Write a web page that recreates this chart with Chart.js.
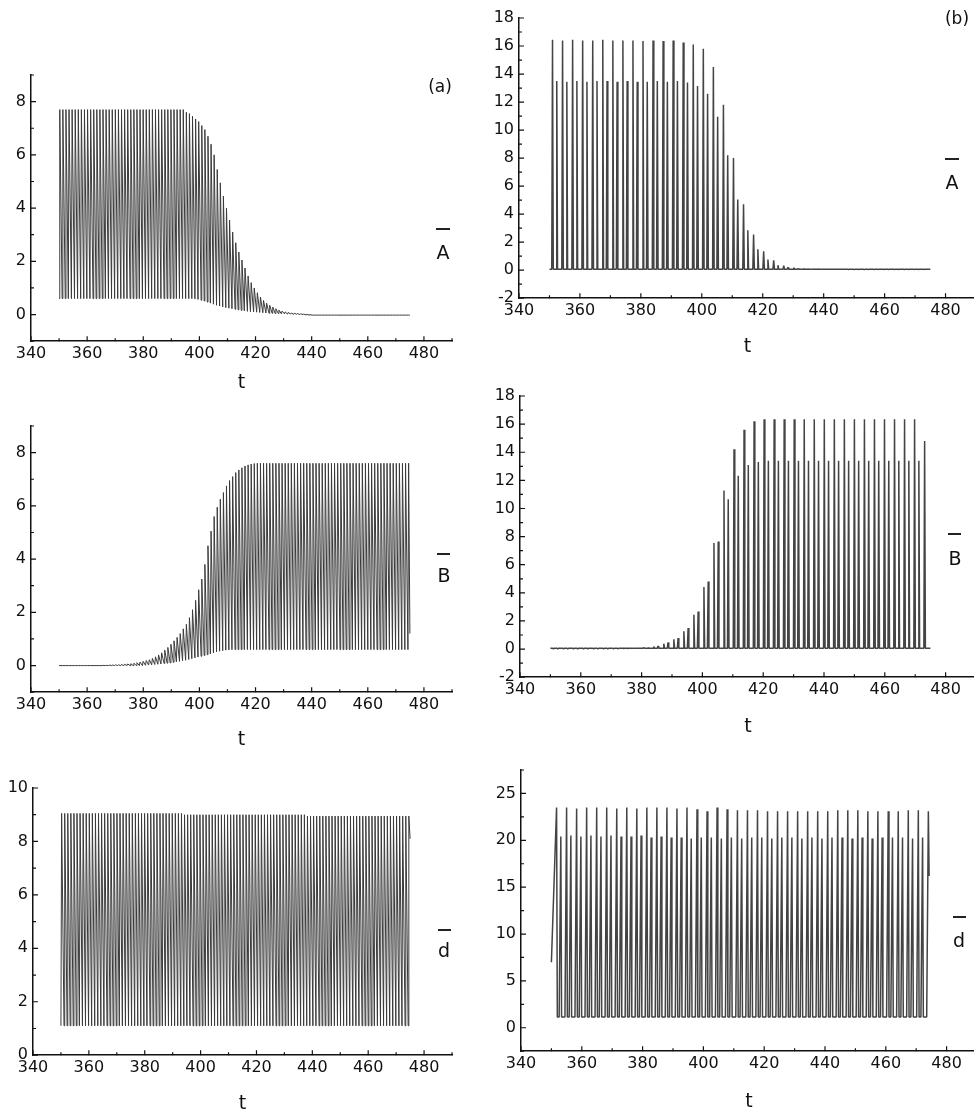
<!DOCTYPE html>
<html>
<head>
<meta charset="utf-8">
<script src="https://cdn.jsdelivr.net/npm/chart.js@4.4.1/dist/chart.umd.min.js"></script>
<style>
    html, body { margin: 0; padding: 0; background: #fff; }
    body { width: 974px; height: 1113px; position: relative; overflow: hidden; font-family: 'DejaVu Sans', sans-serif; }
    canvas { position: absolute; }
    .lbl { position: absolute; transform: translate(-50%, -50%); color: #111; white-space: nowrap; line-height: 1; }
    .bar { position: absolute; height: 0; border-top: 2px solid #222; }
</style>
</head>
<body>
<script>
// axis tick labels
var xTicks = [340, 360, 380, 400, 420, 440, 460, 480];
var yTicksAB = [0, 2, 4, 6, 8];
var yTicksSpike = [-2, 0, 2, 4, 6, 8, 10, 12, 14, 16, 18];
var yTicksDLeft = [0, 2, 4, 6, 8, 10];
var yTicksDRight = [0, 5, 10, 15, 20, 25];

// left column (a): times of each oscillation
var tLeft = [
    350.0, 351.1, 352.2, 353.3, 354.4, 355.5, 356.6, 357.7, 358.8, 359.9,
    361.0, 362.1, 363.2, 364.3, 365.4, 366.5, 367.6, 368.7, 369.8, 370.9,
    372.0, 373.1, 374.2, 375.3, 376.4, 377.5, 378.6, 379.7, 380.8, 381.9,
    383.0, 384.1, 385.2, 386.3, 387.4, 388.5, 389.6, 390.7, 391.8, 392.9,
    394.0, 395.1, 396.2, 397.3, 398.4, 399.5, 400.6, 401.7, 402.8, 403.9,
    405.0, 406.1, 407.2, 408.3, 409.4, 410.5, 411.6, 412.7, 413.8, 414.9,
    416.0, 417.1, 418.2, 419.3, 420.4, 421.5, 422.6, 423.7, 424.8, 425.9,
    427.0, 428.1, 429.2, 430.3, 431.4, 432.5, 433.6, 434.7, 435.8, 436.9,
    438.0, 439.1, 440.2, 441.3, 442.4, 443.5, 444.6, 445.7, 446.8, 447.9,
    449.0, 450.1, 451.2, 452.3, 453.4, 454.5, 455.6, 456.7, 457.8, 458.9,
    460.0, 461.1, 462.2, 463.3, 464.4, 465.5, 466.6, 467.7, 468.8, 469.9,
    471.0, 472.1, 473.2, 474.3
];

// A, left column: max / min of every oscillation
var aLeftHi = [
    7.7, 7.7, 7.7, 7.7, 7.7, 7.7, 7.7, 7.7, 7.7, 7.7,
    7.7, 7.7, 7.7, 7.7, 7.7, 7.7, 7.7, 7.7, 7.7, 7.7,
    7.7, 7.7, 7.7, 7.7, 7.7, 7.7, 7.7, 7.7, 7.7, 7.7,
    7.7, 7.7, 7.7, 7.7, 7.7, 7.7, 7.7, 7.7, 7.7, 7.7,
    7.7, 7.6, 7.55, 7.45, 7.35, 7.25, 7.1, 6.95, 6.7, 6.4,
    6.0, 5.45, 4.95, 4.45, 4.0, 3.55, 3.1, 2.7, 2.35, 2.05,
    1.75, 1.45, 1.2, 1.0, 0.82, 0.66, 0.53, 0.43, 0.35, 0.28,
    0.22, 0.17, 0.13, 0.1, 0.08, 0.06, 0.05, 0.04, 0.03, 0.02,
    0.01, 0, -0.02, -0.02, -0.02, -0.02, -0.02, -0.02, -0.02, -0.02,
    -0.02, -0.02, -0.02, -0.02, -0.02, -0.02, -0.02, -0.02, -0.02, -0.02,
    -0.02, -0.02, -0.02, -0.02, -0.02, -0.02, -0.02, -0.02, -0.02, -0.02,
    -0.02, -0.02, -0.02, -0.02
];
var aLeftLo = [
    0.6, 0.6, 0.6, 0.6, 0.6, 0.6, 0.6, 0.6, 0.6, 0.6,
    0.6, 0.6, 0.6, 0.6, 0.6, 0.6, 0.6, 0.6, 0.6, 0.6,
    0.6, 0.6, 0.6, 0.6, 0.6, 0.6, 0.6, 0.6, 0.6, 0.6,
    0.6, 0.6, 0.6, 0.6, 0.6, 0.6, 0.6, 0.6, 0.6, 0.6,
    0.6, 0.6, 0.6, 0.6, 0.59, 0.57, 0.54, 0.51, 0.47, 0.43,
    0.39, 0.35, 0.32, 0.29, 0.26, 0.24, 0.22, 0.2, 0.18, 0.16,
    0.14, 0.12, 0.11, 0.1, 0.09, 0.08, 0.07, 0.06, 0.05, 0.05,
    0.04, 0.04, 0.03, 0.03, 0.02, 0.02, 0.01, 0.01, 0, 0,
    -0.01, -0.02, -0.02, -0.02, -0.02, -0.02, -0.02, -0.02, -0.02, -0.02,
    -0.02, -0.02, -0.02, -0.02, -0.02, -0.02, -0.02, -0.02, -0.02, -0.02,
    -0.02, -0.02, -0.02, -0.02, -0.02, -0.02, -0.02, -0.02, -0.02, -0.02,
    -0.02, -0.02, -0.02, -0.02
];
var aLeftEnd = -0.02;

// B, left column
var bLeftHi = [
    0, 0, 0, 0, 0, 0, 0, 0, 0, 0,
    0, 0, 0, 0, 0.01, 0.01, 0.02, 0.02, 0.03, 0.03,
    0.04, 0.05, 0.06, 0.07, 0.09, 0.11, 0.13, 0.16, 0.19, 0.22,
    0.27, 0.33, 0.4, 0.48, 0.58, 0.68, 0.8, 0.93, 1.06, 1.2,
    1.38, 1.55, 1.8, 2.1, 2.45, 2.85, 3.25, 3.8, 4.5, 5.05,
    5.6, 5.95, 6.25, 6.5, 6.75, 6.95, 7.1, 7.25, 7.35, 7.43,
    7.5, 7.54, 7.57, 7.59, 7.6, 7.6, 7.6, 7.6, 7.6, 7.6,
    7.6, 7.6, 7.6, 7.6, 7.6, 7.6, 7.6, 7.6, 7.6, 7.6,
    7.6, 7.6, 7.6, 7.6, 7.6, 7.6, 7.6, 7.6, 7.6, 7.6,
    7.6, 7.6, 7.6, 7.6, 7.6, 7.6, 7.6, 7.6, 7.6, 7.6,
    7.6, 7.6, 7.6, 7.6, 7.6, 7.6, 7.6, 7.6, 7.6, 7.6,
    7.6, 7.6, 7.6, 7.6
];
var bLeftLo = [
    0, 0, 0, 0, 0, 0, 0, 0, 0, 0,
    0, 0, 0, 0, 0, 0, 0, 0, 0, 0,
    0, 0, 0, 0, 0, 0, 0, 0, 0.01, 0.02,
    0.03, 0.04, 0.05, 0.06, 0.08, 0.09, 0.1, 0.12, 0.14, 0.16,
    0.18, 0.2, 0.23, 0.26, 0.29, 0.32, 0.35, 0.38, 0.41, 0.44,
    0.48, 0.51, 0.54, 0.56, 0.58, 0.59, 0.6, 0.6, 0.6, 0.6,
    0.6, 0.6, 0.6, 0.6, 0.6, 0.6, 0.6, 0.6, 0.6, 0.6,
    0.6, 0.6, 0.6, 0.6, 0.6, 0.6, 0.6, 0.6, 0.6, 0.6,
    0.6, 0.6, 0.6, 0.6, 0.6, 0.6, 0.6, 0.6, 0.6, 0.6,
    0.6, 0.6, 0.6, 0.6, 0.6, 0.6, 0.6, 0.6, 0.6, 0.6,
    0.6, 0.6, 0.6, 0.6, 0.6, 0.6, 0.6, 0.6, 0.6, 0.6,
    0.6, 0.6, 0.6, 0.6
];
var bLeftEnd = 1.2;

// d, left column
var dLeftHi = [
    9.05, 9.05, 9.05, 9.05, 9.05, 9.05, 9.05, 9.05, 9.05, 9.05,
    9.05, 9.05, 9.05, 9.05, 9.05, 9.05, 9.05, 9.05, 9.05, 9.05,
    9.05, 9.05, 9.05, 9.05, 9.05, 9.05, 9.05, 9.05, 9.05, 9.05,
    9.05, 9.05, 9.05, 9.05, 9.05, 9.05, 9.05, 9.05, 9.05, 9.05,
    9.0, 9.0, 9.0, 9.0, 9.0, 9.0, 9.0, 9.0, 9.0, 9.0,
    9.0, 9.0, 9.0, 9.0, 9.0, 9.0, 9.0, 9.0, 9.0, 9.0,
    9.0, 9.0, 9.0, 9.0, 9.0, 9.0, 9.0, 9.0, 9.0, 9.0,
    9.0, 9.0, 9.0, 9.0, 9.0, 9.0, 9.0, 9.0, 9.0, 9.0,
    8.95, 8.95, 8.95, 8.95, 8.95, 8.95, 8.95, 8.95, 8.95, 8.95,
    8.95, 8.95, 8.95, 8.95, 8.95, 8.95, 8.95, 8.95, 8.95, 8.95,
    8.95, 8.95, 8.95, 8.95, 8.95, 8.95, 8.95, 8.95, 8.95, 8.95,
    8.95, 8.95, 8.95, 8.95
];
var dLeftLo = [
    1.1, 1.1, 1.1, 1.1, 1.1, 1.1, 1.1, 1.1, 1.1, 1.1,
    1.1, 1.1, 1.1, 1.1, 1.1, 1.1, 1.1, 1.1, 1.1, 1.1,
    1.1, 1.1, 1.1, 1.1, 1.1, 1.1, 1.1, 1.1, 1.1, 1.1,
    1.1, 1.1, 1.1, 1.1, 1.1, 1.1, 1.1, 1.1, 1.1, 1.1,
    1.1, 1.1, 1.1, 1.1, 1.1, 1.1, 1.1, 1.1, 1.1, 1.1,
    1.1, 1.1, 1.1, 1.1, 1.1, 1.1, 1.1, 1.1, 1.1, 1.1,
    1.1, 1.1, 1.1, 1.1, 1.1, 1.1, 1.1, 1.1, 1.1, 1.1,
    1.1, 1.1, 1.1, 1.1, 1.1, 1.1, 1.1, 1.1, 1.1, 1.1,
    1.1, 1.1, 1.1, 1.1, 1.1, 1.1, 1.1, 1.1, 1.1, 1.1,
    1.1, 1.1, 1.1, 1.1, 1.1, 1.1, 1.1, 1.1, 1.1, 1.1,
    1.1, 1.1, 1.1, 1.1, 1.1, 1.1, 1.1, 1.1, 1.1, 1.1,
    1.1, 1.1, 1.1, 1.1
];
var dLeftEnd = 8.1;

// right column (b): times of the tall and the short spikes of A and B
var tRightTall = [
    351.0, 354.3, 357.6, 360.9, 364.2, 367.5, 370.8, 374.1, 377.4, 380.7,
    384.0, 387.3, 390.6, 393.9, 397.2, 400.5, 403.8, 407.1, 410.4, 413.7,
    417.0, 420.3, 423.6, 426.9, 430.2, 433.5, 436.8, 440.1, 443.4, 446.7,
    450.0, 453.3, 456.6, 459.9, 463.2, 466.5, 469.8, 473.1
];
var tRightShort = [
    352.4, 355.7, 359.0, 362.3, 365.6, 368.9, 372.2, 375.5, 378.8, 382.1,
    385.4, 388.7, 392.0, 395.3, 398.6, 401.9, 405.2, 408.5, 411.8, 415.1,
    418.4, 421.7, 425.0, 428.3, 431.6, 434.9, 438.2, 441.5, 444.8, 448.1,
    451.4, 454.7, 458.0, 461.3, 464.6, 467.9, 471.2
];
var aRightTall = [
    16.45, 16.4, 16.45, 16.4, 16.4, 16.45, 16.4, 16.4, 16.4, 16.35,
    16.4, 16.35, 16.4, 16.25, 16.1, 15.8, 14.5, 11.8, 8.0, 4.7,
    2.55, 1.35, 0.7, 0.32, 0.18, 0.12, 0.09, 0.07, 0.06, 0.06,
    0.05, 0.05, 0.05, 0.05, 0.05, 0.05, 0.05, 0.05
];
var aRightShort = [
    13.5, 13.45, 13.5, 13.45, 13.5, 13.5, 13.45, 13.5, 13.45, 13.45,
    13.5, 13.45, 13.5, 13.4, 13.15, 12.6, 10.95, 8.2, 5.05, 2.85,
    1.5, 0.76, 0.36, 0.2, 0.13, 0.1, 0.08, 0.06, 0.06, 0.05,
    0.05, 0.05, 0.05, 0.05, 0.05, 0.05, 0.05
];
var bRightTall = [
    0, 0, 0, 0, 0.01, 0.01, 0.02, 0.03, 0.05, 0.1,
    0.18, 0.38, 0.7, 1.26, 2.44, 4.41, 7.54, 11.28, 14.22, 15.6,
    16.2, 16.35, 16.35, 16.35, 16.35, 16.35, 16.35, 16.35, 16.35, 16.35,
    16.35, 16.35, 16.35, 16.35, 16.35, 16.35, 16.35, 14.8
];
var bRightShort = [
    0, 0, 0, 0, 0.01, 0.01, 0.02, 0.04, 0.06, 0.12,
    0.22, 0.47, 0.78, 1.5, 2.68, 4.81, 7.65, 10.66, 12.32, 13.1,
    13.3, 13.4, 13.4, 13.4, 13.4, 13.4, 13.4, 13.4, 13.4, 13.4,
    13.4, 13.4, 13.4, 13.4, 13.4, 13.4, 13.4
];
var rightBase = 0.06;

// d, right column
var tDTall = [
    351.7, 355.0, 358.3, 361.6, 364.9, 368.2, 371.5, 374.8, 378.1, 381.4,
    384.7, 388.0, 391.3, 394.6, 397.9, 401.2, 404.5, 407.8, 411.2, 414.5,
    417.8, 421.1, 424.4, 427.7, 431.0, 434.3, 437.6, 440.9, 444.2, 447.5,
    450.8, 454.1, 457.4, 460.8, 464.1, 467.4, 470.7, 474.0
];
var tDShort = [
    353.1, 356.4, 359.7, 363.0, 366.3, 369.6, 372.9, 376.2, 379.5, 382.8,
    386.1, 389.4, 392.7, 396.0, 399.3, 402.6, 405.9, 409.2, 412.6, 415.9,
    419.2, 422.5, 425.8, 429.1, 432.4, 435.7, 439.0, 442.3, 445.6, 448.9,
    452.2, 455.5, 458.8, 462.2, 465.5, 468.8, 472.1
];
var dRightTall = [
    23.5, 23.5, 23.4, 23.5, 23.5, 23.5, 23.4, 23.5, 23.4, 23.5,
    23.5, 23.5, 23.4, 23.5, 23.3, 23.1, 23.5, 23.3, 23.2, 23.2,
    23.2, 23.1, 23.1, 23.1, 23.1, 23.1, 23.1, 23.1, 23.2, 23.2,
    23.2, 23.1, 23.1, 23.1, 23.1, 23.2, 23.2, 23.1
];
var dRightShort = [
    20.4, 20.5, 20.4, 20.5, 20.4, 20.5, 20.4, 20.4, 20.5, 20.3,
    20.4, 20.3, 20.3, 20.2, 20.3, 20.3, 20.2, 20.3, 20.2, 20.3,
    20.3, 20.2, 20.3, 20.3, 20.2, 20.3, 20.2, 20.3, 20.3, 20.2,
    20.3, 20.2, 20.3, 20.3, 20.3, 20.2, 20.3
];
var dRightLow = 1.15;
var dRightStart = 7.0;
var dRightEnd = 16.2;

var tickFont = { family: 'DejaVu Sans', size: 16 };

// fast rise, slow fall over every oscillation of the left column
function oscillation(ts, hi, lo, endValue) {
    var pts = [];
    for (var i = 0; i < ts.length; i++) {
        pts.push({ x: ts[i], y: lo[i] });
        pts.push({ x: ts[i] + 0.25, y: hi[i] });
    }
    pts.push({ x: 475, y: endValue });
    return pts;
}

// spike trains of the right column
function spikeTrain(tallT, tallV, shortT, shortV, low, rise, fall, startV, endV) {
    var peaks = [];
    tallT.forEach(function (t, i) { peaks.push([t, tallV[i]]); });
    shortT.forEach(function (t, i) { peaks.push([t, shortV[i]]); });
    peaks.sort(function (p, q) { return p[0] - q[0]; });
    var pts = [{ x: 350, y: startV }];
    peaks.forEach(function (p, i) {
        if (i > 0 || startV === low) pts.push({ x: p[0] - rise, y: low });
        pts.push({ x: p[0], y: p[1] });
        pts.push({ x: p[0] + fall, y: low });
    });
    if (endV !== low) {
        pts[pts.length - 1].y = endV;
    } else {
        pts.push({ x: 475, y: low });
    }
    return pts;
}

function leftDatasets(ts, hi, lo, endValue) {
    return [{
        data: oscillation(ts, hi, lo, endValue),
        borderColor: '#3a3a3a',
        borderWidth: 1,
        borderJoinStyle: 'bevel',
        pointRadius: 0,
        fill: false,
    }];
}

function rightDatasets(pts) {
    return [{
        data: pts,
        borderColor: '#444',
        borderWidth: 1.5,
        borderJoinStyle: 'bevel',
        pointRadius: 0,
        fill: false,
    }];
}

// tick marks drawn on the inner side of both axes
var innerTicks = {
    id: 'innerTicks',
    afterDraw: function (chart, args, opts) {
        var ctx = chart.ctx;
        var x = chart.scales.x;
        var y = chart.scales.y;
        var area = chart.chartArea;
        ctx.save();
        ctx.strokeStyle = '#111';
        ctx.lineWidth = 1.2;
        ctx.beginPath();
        var v, p, k;
        for (v = opts.xMin; v <= opts.xMax + 1e-6; v += opts.xMinor) {
            p = x.getPixelForValue(v);
            k = (v - opts.xMin) / opts.xMajor;
            ctx.moveTo(p, area.bottom);
            ctx.lineTo(p, area.bottom - (Math.abs(k - Math.round(k)) < 1e-6 ? 5 : 3));
        }
        for (v = opts.yMin; v <= opts.yMax + 1e-6; v += opts.yMinor) {
            p = y.getPixelForValue(v);
            k = (v - opts.yBase) / opts.yMajor;
            ctx.moveTo(area.left, p);
            ctx.lineTo(area.left + (Math.abs(k - Math.round(k)) < 1e-6 ? 5 : 3), p);
        }
        ctx.stroke();
        ctx.restore();
    },
};

function makePanel(p) {
    var padTop = 25;
    var padRight = 12;
    var wy = p.l - p.cl;
    var hx = p.tY - p.b + 10.8;
    var w = wy + (p.r - p.l) + padRight;
    var h = Math.round(padTop + (p.b - p.t) + hx);
    var cv = document.createElement('canvas');
    cv.width = w;
    cv.height = h;
    cv.style.left = p.cl + 'px';
    cv.style.top = (p.t - padTop) + 'px';
    cv.style.width = w + 'px';
    cv.style.height = h + 'px';
    document.body.appendChild(cv);

    new Chart(cv.getContext('2d'), {
        type: 'line',
        data: { datasets: p.datasets },
        options: {
            responsive: false,
            animation: false,
            devicePixelRatio: 1,
            layout: { padding: { top: padTop, right: padRight, left: 0, bottom: 0 } },
            plugins: {
                legend: { display: false },
                tooltip: { enabled: false },
                innerTicks: {
                    xMin: 340, xMax: 490, xMajor: 20, xMinor: 10,
                    yMin: p.yMin, yMax: p.yMax, yBase: p.yTicks[0],
                    yMajor: p.yTicks[1] - p.yTicks[0], yMinor: p.yMinor,
                },
            },
            scales: {
                x: {
                    type: 'linear',
                    min: 340,
                    max: 490,
                    grid: { display: false, drawTicks: false },
                    border: { display: true, color: '#111', width: 1.5 },
                    afterBuildTicks: function (scale) {
                        scale.ticks = xTicks.map(function (v) { return { value: v }; });
                    },
                    afterFit: function (scale) { scale.height = hx; },
                    ticks: {
                        padding: 3, color: '#111', font: tickFont, maxRotation: 0, autoSkip: false,
                        callback: function (v) { return String(v); },
                    },
                    title: {
                        display: true,
                        text: 't',
                        color: '#111',
                        padding: 0,
                        font: { family: 'DejaVu Sans', size: 19 },
                    },
                },
                y: {
                    type: 'linear',
                    min: p.yMin,
                    max: p.yMax,
                    grid: { display: false, drawTicks: false },
                    border: { display: true, color: '#111', width: 1.5 },
                    afterBuildTicks: function (scale) {
                        scale.ticks = p.yTicks.map(function (v) { return { value: v }; });
                    },
                    afterFit: function (scale) { scale.width = wy; },
                    ticks: {
                        padding: 5, color: '#111', font: tickFont, autoSkip: false,
                        callback: function (v) { return String(v); },
                    },
                },
            },
        },
        plugins: [innerTicks],
    });
}

function addLabel(text, x, y, size) {
    var d = document.createElement('div');
    d.className = 'lbl';
    d.textContent = text;
    d.style.left = x + 'px';
    d.style.top = y + 'px';
    d.style.fontSize = size + 'px';
    document.body.appendChild(d);
}

function addBar(x1, x2, y) {
    var d = document.createElement('div');
    d.className = 'bar';
    d.style.left = x1 + 'px';
    d.style.width = (x2 - x1) + 'px';
    d.style.top = (y - 1) + 'px';
    document.body.appendChild(d);
}

makePanel({
    cl: 0, l: 31, t: 75, r: 452, b: 341, tY: 383,
    yMin: -1, yMax: 9, yMinor: 1, yTicks: yTicksAB,
    datasets: leftDatasets(tLeft, aLeftHi, aLeftLo, aLeftEnd),
});
makePanel({
    cl: 0, l: 31, t: 426, r: 452, b: 692, tY: 740,
    yMin: -1, yMax: 9, yMinor: 1, yTicks: yTicksAB,
    datasets: leftDatasets(tLeft, bLeftHi, bLeftLo, bLeftEnd),
});
makePanel({
    cl: 0, l: 33, t: 788, r: 452, b: 1055, tY: 1104,
    yMin: 0, yMax: 10, yMinor: 1, yTicks: yTicksDLeft,
    datasets: leftDatasets(tLeft, dLeftHi, dLeftLo, dLeftEnd),
});
makePanel({
    cl: 479, l: 519, t: 18, r: 976, b: 298, tY: 347,
    yMin: -2, yMax: 18, yMinor: 1, yTicks: yTicksSpike,
    datasets: rightDatasets(spikeTrain(tRightTall, aRightTall, tRightShort, aRightShort, rightBase, 0.25, 0.25, rightBase, rightBase)),
});
makePanel({
    cl: 479, l: 520, t: 396, r: 976, b: 677, tY: 727,
    yMin: -2, yMax: 18, yMinor: 1, yTicks: yTicksSpike,
    datasets: rightDatasets(spikeTrain(tRightTall, bRightTall, tRightShort, bRightShort, rightBase, 0.25, 0.25, rightBase, rightBase)),
});
makePanel({
    cl: 479, l: 521, t: 770, r: 977, b: 1051, tY: 1102,
    yMin: -2.5, yMax: 27.5, yMinor: 2.5, yTicks: yTicksDRight,
    datasets: rightDatasets(spikeTrain(tDTall, dRightTall, tDShort, dRightShort, dRightLow, 0.55, 0.25, dRightStart, dRightEnd)),
});

addLabel('(a)', 440, 86, 17);
addLabel('(b)', 957, 18, 17);
addLabel('A', 443, 252, 19);
addBar(436, 450, 229);
addLabel('A', 952, 182, 19);
addBar(945, 959, 159);
addLabel('B', 444, 575, 19);
addBar(437, 450, 554);
addLabel('B', 955, 558, 19);
addBar(948, 961, 534);
addLabel('d', 444, 950, 19);
addBar(438, 451, 930);
addLabel('d', 959, 940, 19);
addBar(953, 966, 917);
</script>
</body>
</html>
